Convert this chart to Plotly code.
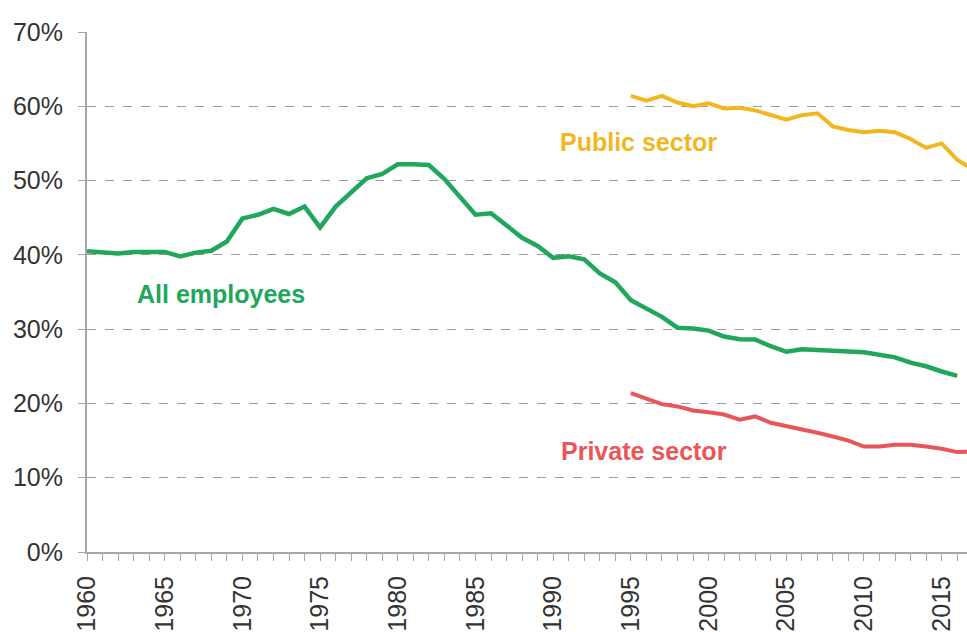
import plotly.graph_objects as go

# share of employees who are trade union members, by year
years_all = list(range(1960, 2017))
all_employees = [
    40.5, 40.3, 40.2, 40.4, 40.4, 40.4, 39.8, 40.3, 40.55, 41.8,
    44.9, 45.4, 46.2, 45.5, 46.5, 43.7, 46.5, 48.4, 50.3, 50.9,
    52.2, 52.2, 52.1, 50.2, 47.9, 45.4, 45.6, 43.9, 42.3, 41.2,
    39.6, 39.8, 39.4, 37.5, 36.3, 33.9, 32.8, 31.65, 30.2, 30.1,
    29.8, 29.0, 28.65, 28.6, 27.7, 26.95, 27.3, 27.25, 27.1, 27.0,
    26.9, 26.6, 26.2, 25.5, 25.0, 24.3, 23.7,
]

years_sector = list(range(1995, 2018))
public_sector = [
    61.4, 60.75, 61.4, 60.5, 60.0, 60.4, 59.7, 59.8, 59.45, 58.8,
    58.2, 58.8, 59.05, 57.3, 56.8, 56.5, 56.7, 56.5, 55.6, 54.4,
    55.0, 52.8, 51.5,
]
private_sector = [
    21.4, 20.6, 19.9, 19.6, 19.05, 18.8, 18.5, 17.8, 18.25, 17.4,
    16.95, 16.6, 16.05, 15.55, 15.0, 14.2, 14.2, 14.45, 14.45, 14.2,
    13.9, 13.45, 13.5,
]

GREEN = "#20a75c"
YELLOW = "#f2b61f"
RED = "#ea5559"
GREY = "#a6a6a6"
TEXT = "#333333"

fig = go.Figure()
fig.add_trace(go.Scatter(x=years_all, y=all_employees, mode="lines",
                         line={"color": GREEN, "width": 4.5}))
fig.add_trace(go.Scatter(x=years_sector, y=public_sector, mode="lines",
                         line={"color": YELLOW, "width": 4}))
fig.add_trace(go.Scatter(x=years_sector, y=private_sector, mode="lines",
                         line={"color": RED, "width": 4}))

label_font = {"family": "Liberation Sans, Arial, sans-serif", "size": 25, "weight": "bold"}
fig.add_annotation(x=1963.1, y=34.7, text="All employees", showarrow=False, xanchor="left",
                   font={**label_font, "color": GREEN})
fig.add_annotation(x=1990.3, y=55.2, text="Public sector", showarrow=False, xanchor="left",
                   font={**label_font, "color": YELLOW})
fig.add_annotation(x=1990.35, y=13.6, text="Private sector", showarrow=False, xanchor="left",
                   font={**label_font, "color": RED})

fig.update_layout(
    width=967,
    height=632,
    showlegend=False,
    paper_bgcolor="#ffffff",
    plot_bgcolor="#ffffff",
    font={"family": "Liberation Sans, Arial, sans-serif", "color": TEXT, "size": 25},
    margin={"l": 87, "r": 0, "t": 32, "b": 77},
)
fig.update_xaxes(
    range=[1960, 2016.63],
    tick0=1960,
    dtick=5,
    tickangle=-90,
    ticks="outside",
    ticklen=7,
    tickcolor=GREY,
    ticklabelstandoff=5,
    minor={"dtick": 1, "ticks": "outside", "ticklen": 7, "tickcolor": GREY},
    showgrid=False,
    showline=True,
    linecolor=GREY,
    linewidth=2,
    zeroline=False,
)
fig.update_yaxes(
    range=[0, 70],
    dtick=10,
    ticksuffix="%",
    ticks="outside",
    ticklen=7,
    tickcolor=GREY,
    ticklabelstandoff=10,
    showgrid=True,
    gridcolor="#9a9a9a",
    griddash="dash",
    gridwidth=1,
    showline=True,
    linecolor=GREY,
    linewidth=2,
    zeroline=False,
)

fig.write_html("out.html", config={"displayModeBar": False},
               post_script="document.body.style.margin='0';")
